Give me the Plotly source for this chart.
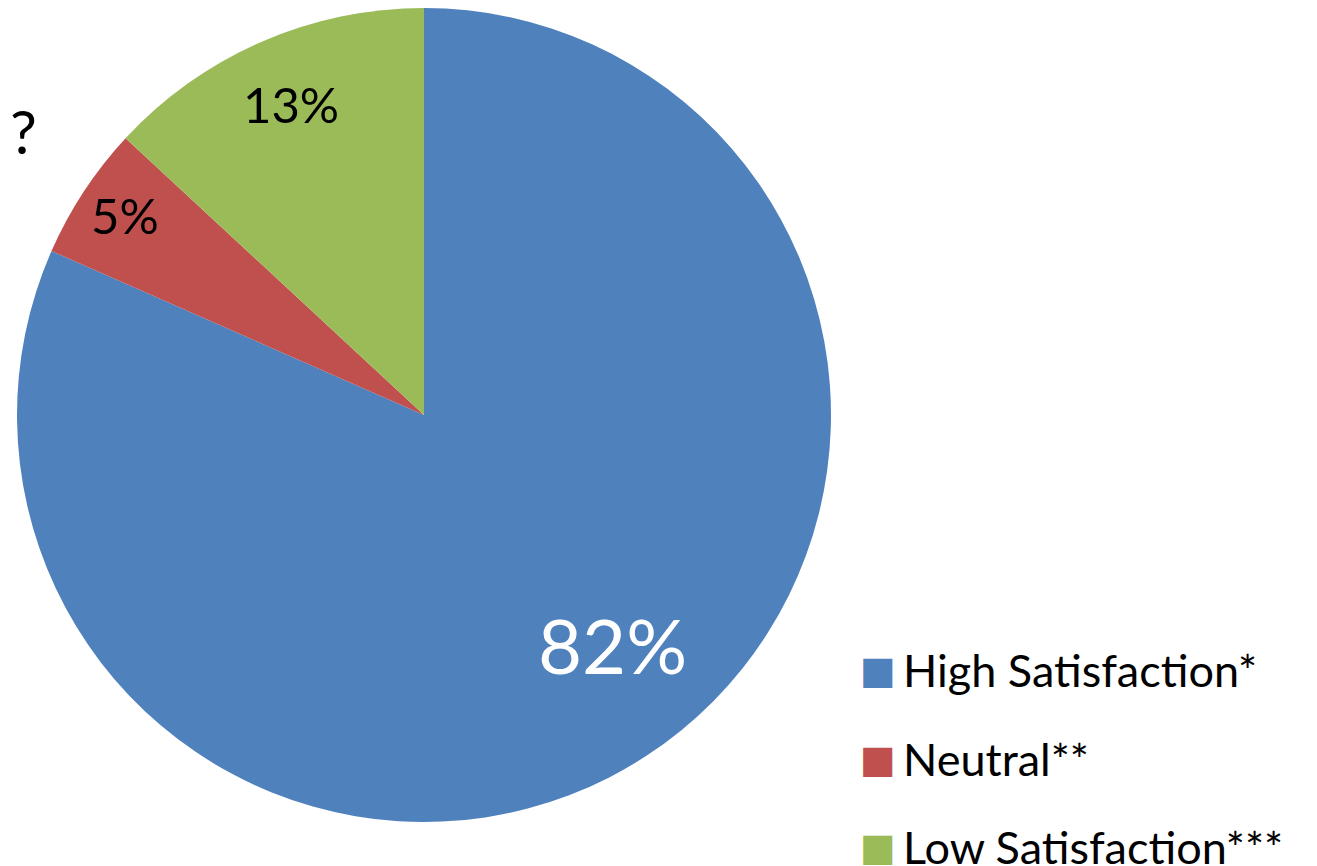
import math
import plotly.graph_objects as go

labels = ["High Satisfaction*", "Neutral**", "Low Satisfaction***"]
values = [81.6, 5.3, 13.1]
colors = ["#4F81BD", "#C0504D", "#9BBB59"]
text_colors = ["white", "black", "black"]
text_sizes = [76, 49, 49]
label_radius = [0.731, 0.884, 0.831]      # fraction of pie radius
label_angle_shift = [-6.3, 0.5, 0.4]      # degrees, clockwise

W, H = 1317, 866
FONT = "Lato"

# pie geometry (px, page coords)
px0, px1, py0, py1 = 9, 823, 0, 814
cx, cy, R = (px0 + px1) / 2, (py0 + py1) / 2, (px1 - px0) / 2

fig = go.Figure()
fig.add_trace(go.Pie(
    labels=labels, values=values, sort=False, direction="clockwise", rotation=0,
    marker=dict(colors=colors, line=dict(width=0)),
    textinfo="none",
    domain=dict(x=[px0 / W, px1 / W], y=[1 - py1 / H, 1 - py0 / H]),
    showlegend=False, hoverinfo="label+percent",
))

annotations = []
total = sum(values)
cum = 0.0
for v, tc, ts, rf, sh in zip(values, text_colors, text_sizes, label_radius, label_angle_shift):
    mid = (cum + v / 2) / total * 360 + sh
    cum += v
    a = math.radians(mid)
    x = cx + rf * R * math.sin(a)
    y = cy - rf * R * math.cos(a)
    annotations.append(dict(x=x / W, y=1 - y / H, xref="paper", yref="paper",
                            text=f"{round(v / total * 100)}%", showarrow=False,
                            xanchor="center", yanchor="middle",
                            font=dict(family=FONT, size=ts, color=tc)))

legend_y = [662, 751, 839]
for lab, col, yy in zip(labels, colors, legend_y):
    annotations.append(dict(x=850 / W, y=1 - yy / H, xref="paper", yref="paper",
                            text="■", showarrow=False, xanchor="left", yanchor="middle",
                            font=dict(family="DejaVu Sans", size=38, color=col)))
    annotations.append(dict(x=893 / W, y=1 - yy / H, xref="paper", yref="paper",
                            text=lab, showarrow=False, xanchor="left", yanchor="middle",
                            font=dict(family=FONT, size=45, color="black")))
annotations.append(dict(x=0, y=1 - 123 / H, xref="paper", yref="paper", text="?",
                        showarrow=False, xanchor="left", yanchor="middle",
                        font=dict(family=FONT, size=60, color="black")))

fig.update_layout(width=W, height=H, margin=dict(l=0, r=0, t=0, b=0),
                  paper_bgcolor="white", plot_bgcolor="white",
                  annotations=annotations)
fig.write_html("out.html")
